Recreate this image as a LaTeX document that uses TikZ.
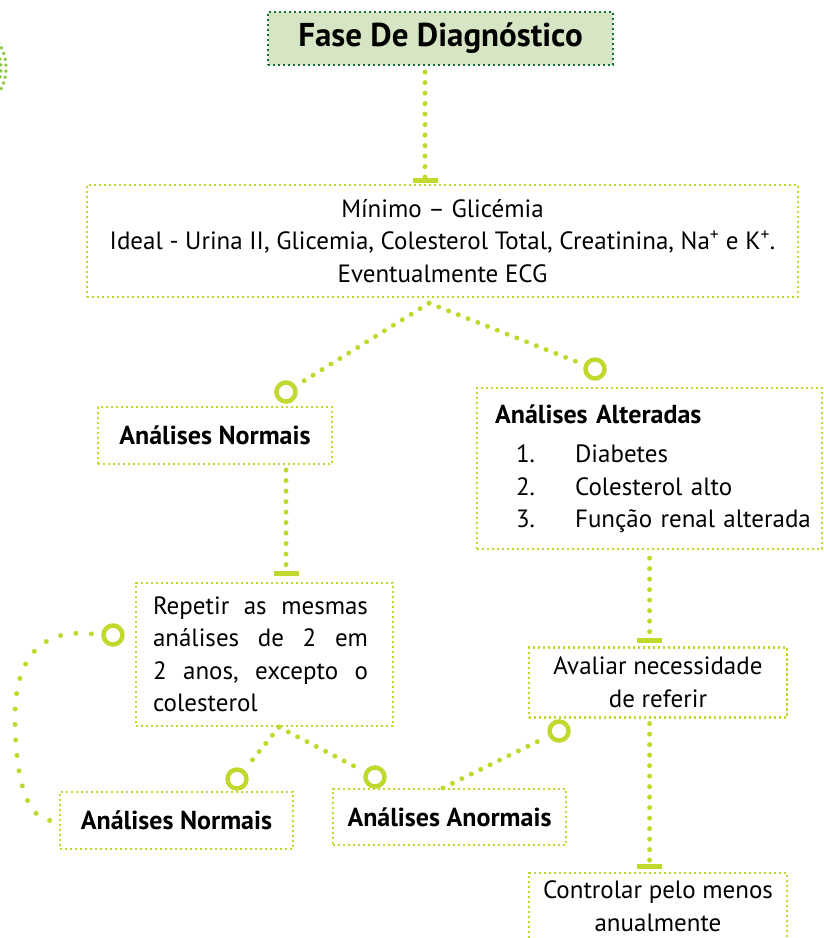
\documentclass[tikz,border=0pt]{standalone}
\usepackage{fontspec}
\setmainfont{PT Sans}
\usetikzlibrary{arrows.meta,calc}
\definecolor{lime}{RGB}{193,216,47}
\definecolor{ttlfill}{RGB}{214,230,196}
\definecolor{ttldraw}{RGB}{22,110,55}
\definecolor{arcgreen}{RGB}{141,198,63}
\tikzset{
  boxnode/.style={draw=lime, line width=2.2pt, dash pattern=on 2.2pt off 2.8pt, rectangle, inner sep=0pt, font=\fontsize{25}{32.5}\selectfont},
  boldbox/.style={boxnode, font=\fontsize{26}{32.5}\selectfont\bfseries},
  ttlnode/.style={draw=ttldraw, fill=ttlfill, line width=2.2pt, dash pattern=on 2.2pt off 2.8pt, rectangle, inner sep=0pt, font=\fontsize{33}{38}\selectfont\bfseries},
  ring/.style={circle, draw=lime, line width=4.5pt, minimum size=19pt, inner sep=0pt},
  dotline/.style={draw=lime, line width=5pt, line cap=round, dash pattern=on 0pt off 10.5pt},
  teeline/.style={dotline, -{Bar[width=25pt,line width=5pt,line cap=butt]}},
  loopline/.style={draw=lime, line width=5pt, line cap=round, dash pattern=on 0pt off 15.5pt},
}
\begin{document}
\begin{tikzpicture}[x=1pt,y=-1pt]
\useasboundingbox (0,0) rectangle (823,938);
% left partial dotted arc
\draw[arcgreen, line width=3.8pt, line cap=round, dash pattern=on 0pt off 6pt] (-41,68) ++(-40:47) arc[start angle=-40, end angle=40, radius=47];
\draw[arcgreen, line width=3.8pt, line cap=round, dash pattern=on 0pt off 6pt] (-41,68) ++(-37:42) arc[start angle=-37, end angle=37, radius=42];
% nodes
\node[ttlnode, minimum width=345pt, minimum height=53pt] (title) at (440.5,38.5) {Fase De Diagnóstico};
\node[boxnode, minimum width=711pt, minimum height=112pt, align=center] (b2) at (442.5,241)
  {Mínimo – Glicémia\\Ideal - Urina II, Glicemia, Colesterol Total, Creatinina, Na\textsuperscript{+} e K\textsuperscript{+}.\\Eventualmente ECG};
\node[boldbox, minimum width=234pt, minimum height=57pt] (n1) at (215,435.5) {Análises Normais};
\node[boxnode, anchor=west, minimum width=345pt, minimum height=161pt, text width=309pt, align=left, inner xsep=18pt] (alt) at (476,468.5)
  {\mbox{\fontsize{26}{32.5}\selectfont\bfseries Análises Alteradas}\\[7pt]
   \mbox{\hspace*{21pt}\makebox[59pt][l]{1.}Diabetes}\\
   \mbox{\hspace*{21pt}\makebox[59pt][l]{2.}Colesterol alto}\\
   \mbox{\hspace*{21pt}\makebox[59pt][l]{3.}Função renal alterada}};
\node[boxnode, minimum width=257pt, minimum height=143pt, text width=223pt, align=left] (rep) at (264.5,654.5)
  {\makebox[215pt][s]{Repetir\hfill as\hfill mesmas}\\\makebox[215pt][s]{análises\hfill de\hfill 2\hfill em}\\\makebox[215pt][s]{2\hfill anos,\hfill excepto\hfill o}\\colesterol};
\node[boxnode, minimum width=258pt, minimum height=70pt, align=center] (av) at (658,682.5) {Avaliar necessidade\\de referir};
\node[boxnode, anchor=north, minimum width=258pt, minimum height=66pt, align=center] (ctl) at (658,872) {Controlar pelo menos\\anualmente};
\node[boldbox, minimum width=233pt, minimum height=57pt] (n2) at (176.5,820.5) {Análises Normais};
\node[boldbox, minimum width=233pt, minimum height=56pt] (an) at (449.5,817) {Análises Anormais};
% rings
\node[ring] (r1) at (286,392) {};
\node[ring] (r2) at (595,369) {};
\node[ring] (r3) at (113,635) {};
\node[ring] (r4) at (237,779) {};
\node[ring] (r5) at (375,777) {};
\node[ring] (r6) at (559,731) {};
% tee connectors
\draw[teeline, shorten <=6pt, shorten >=2.5pt] ([xshift=-15.5pt]title.south) -- ([xshift=-15.5pt,yshift=-2pt]title.south |- b2.north);
\draw[teeline, shorten <=5pt, shorten >=4pt] (r1 |- n1.south) -- ([yshift=2pt]r1 |- rep.north);
\draw[teeline, shorten <=8pt, shorten >=3pt] (alt.south) -- (alt.south |- av.north);
\draw[teeline, shorten <=5pt, shorten >=3pt] (alt.south |- av.south) -- (alt.south |- ctl.north);
% ring connectors
\coordinate (b2s) at ([xshift=-13.5pt,yshift=-5pt]b2.south);
\draw[dotline, shorten >=3pt] (b2s) -- (r1);
\draw[dotline, shorten >=3pt] (b2s) -- (r2);
\coordinate (reps) at ([xshift=14.5pt,yshift=-0pt]rep.south);
\draw[dotline, shorten >=3pt] (reps) -- (r4);
\draw[dotline, shorten >=3pt] (reps) -- (r5);
\draw[dotline, shorten >=3pt] ([xshift=-6.5pt]an.north) -- (r6);
\draw[loopline, shorten <=10pt] (r3.west) .. controls (40,628) and (14,660) .. (15,720) .. controls (16,790) and (30,825) .. (n2.west);
\end{tikzpicture}
\end{document}
